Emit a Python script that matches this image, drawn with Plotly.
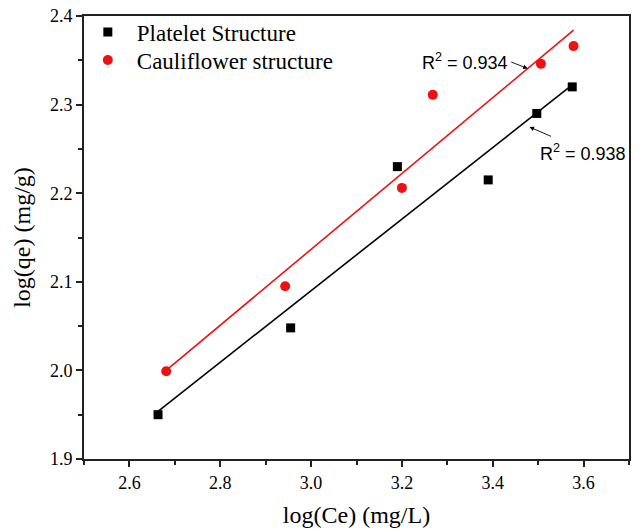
import numpy as np
import plotly.graph_objects as go

# Data
platelet_x = [2.663, 2.955, 3.190, 3.390, 3.497, 3.575]
platelet_y = [1.950, 2.048, 2.230, 2.215, 2.290, 2.320]
cauli_x = [2.681, 2.943, 3.200, 3.268, 3.506, 3.578]
cauli_y = [1.999, 2.095, 2.206, 2.311, 2.346, 2.366]
r2_platelet = "0.938"
r2_cauli = "0.934"
series_names = ["Platelet Structure", "Cauliflower structure"]
x_ticks = [2.6, 2.8, 3.0, 3.2, 3.4, 3.6]
y_ticks = [1.9, 2.0, 2.1, 2.2, 2.3, 2.4]

def fit(xs, ys):
    k, b = np.polyfit(xs, ys, 1)
    xe = [min(xs), max(xs)]
    return xe, [k * v + b for v in xe], k, b

px, py, pk, pb = fit(platelet_x, platelet_y)
cx, cy, ck, cb = fit(cauli_x, cauli_y)

serif = "Liberation Serif"
sans = "Liberation Sans"

fig = go.Figure()
fig.add_trace(go.Scatter(x=px, y=py, mode="lines", line=dict(color="black", width=1.6), showlegend=False, hoverinfo="skip"))
fig.add_trace(go.Scatter(x=cx, y=cy, mode="lines", line=dict(color="#ee1111", width=1.6), showlegend=False, hoverinfo="skip"))
fig.add_trace(go.Scatter(x=platelet_x, y=platelet_y, mode="markers", name=series_names[0], legend="legend",
                         marker=dict(symbol="square", size=9, color="black")))
fig.add_trace(go.Scatter(x=cauli_x, y=cauli_y, mode="markers", name=series_names[1], legend="legend2",
                         marker=dict(symbol="circle", size=10, color="#ee1111")))

# R^2 labels and arrows (arrows drawn separately from the labels)
arrow_style = dict(showarrow=True, arrowhead=2, arrowsize=1, arrowwidth=0.9, arrowcolor="black", standoff=0, text="")
# red fit
xa_c = 3.477
fig.add_annotation(x=xa_c, y=ck * xa_c + cb, ax=-18, ay=-7, **arrow_style)
fig.add_annotation(x=3.439, y=2.349, text=f"R<sup>2</sup> = {r2_cauli}", showarrow=False,
                   xanchor="right", yanchor="middle", font=dict(family=sans, size=18, color="black"))
# black fit
fig.add_annotation(x=3.481, y=2.2747, ax=23, ay=10, **arrow_style)
fig.add_annotation(x=3.499, y=2.2454, text=f"R<sup>2</sup> = {r2_platelet}", showarrow=False,
                   xanchor="left", yanchor="middle", font=dict(family=sans, size=18, color="black"))

axis_common = dict(
    ticks="outside", ticklen=6, tickwidth=1.5, tickcolor="#222", automargin=False,
    showline=True, linecolor="#222", linewidth=2, mirror=True, showgrid=False, zeroline=False,
    tickfont=dict(family=serif, size=18, color="black"),
)

legend_common = dict(xanchor="left", yanchor="top", font=dict(family=serif, size=23, color="black"),
                     bgcolor="rgba(0,0,0,0)", itemwidth=48)

fig.update_layout(
    width=644, height=532,
    margin=dict(l=84, r=15, t=16, b=73, autoexpand=False),
    paper_bgcolor="white", plot_bgcolor="white",
    font=dict(family=serif, size=18, color="black"),
    legend=dict(x=-0.0095, y=1.0124, **legend_common),
    legend2=dict(x=-0.0095, y=0.949, **legend_common),
    xaxis=dict(range=[2.5, 3.7], tickmode="array", tickvals=x_ticks,
               ticktext=[f"{v:.1f}" for v in x_ticks],
               minor=dict(ticks="outside", ticklen=4, tickwidth=1.5, tickcolor="#222", dtick=0.1, showgrid=False),
               title=dict(text="log(Ce) (mg/L)", font=dict(family=serif, size=24, color="black"), standoff=15),
               **axis_common),
    yaxis=dict(range=[1.9, 2.4], tickmode="array", tickvals=y_ticks,
               ticktext=[f"{v:.1f}" for v in y_ticks],
               minor=dict(ticks="outside", ticklen=4, tickwidth=1.5, tickcolor="#222", dtick=0.05, showgrid=False),
               title=dict(text="log(qe) (mg/g)", font=dict(family=serif, size=24, color="black"), standoff=13),
               **axis_common),
)

fig.write_html("out.html")
